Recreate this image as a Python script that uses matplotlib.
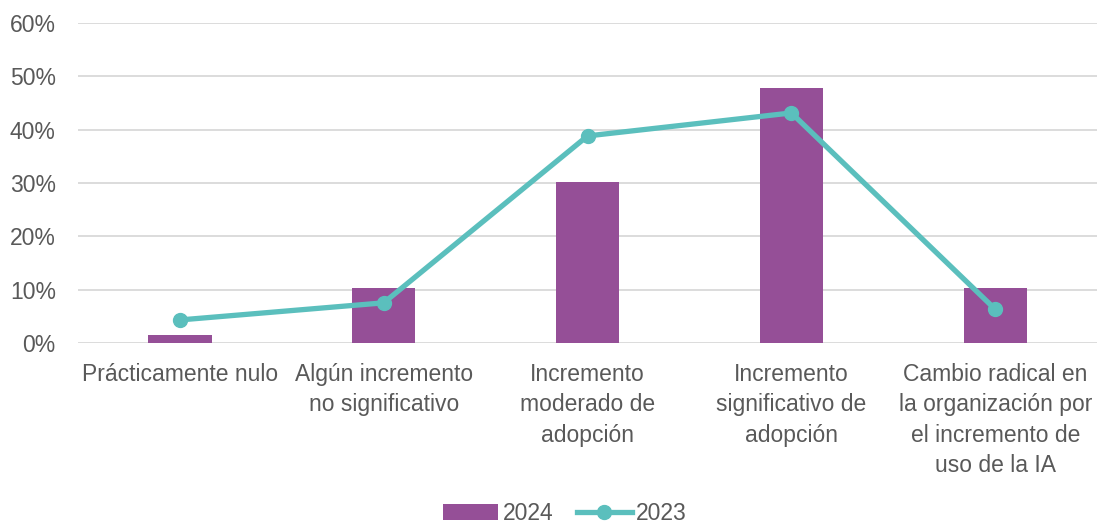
import matplotlib.pyplot as plt
from matplotlib.ticker import PercentFormatter

categories = ["Prácticamente nulo", "Algún incremento\nno significativo",
              "Incremento\nmoderado de\nadopción", "Incremento\nsignificativo de\nadopción",
              "Cambio radical en\nla organización por\nel incremento de\nuso de la IA"]
values_2024 = [0.015, 0.103, 0.302, 0.477, 0.103]
values_2023 = [0.044, 0.076, 0.388, 0.431, 0.064]

plt.rcParams['font.family'] = ['Liberation Sans', 'DejaVu Sans']
grey = '#595959'
fs = 16.5

fig = plt.figure(figsize=(10.97, 5.24), dpi=100)
ax = fig.add_axes([0.0711, 0.3445, 0.929, 0.6125])

x = list(range(len(categories)))
bars = ax.bar(x, values_2024, width=0.31, color='#954F97', label='2024', zorder=2)
line, = ax.plot(x, values_2023, color='#5BBFBD', lw=3.8, marker='o', ms=10,
                label='2023', zorder=3)

ax.set_xlim(-0.5, len(categories) - 0.5)
ax.set_ylim(0, 0.6)
ax.set_yticks([0, 0.1, 0.2, 0.3, 0.4, 0.5, 0.6])
ax.yaxis.set_major_formatter(PercentFormatter(1.0, decimals=0))
ax.set_xticks(x)
ax.set_xticklabels(categories, linespacing=1.41)
ax.tick_params(axis='both', length=0, labelsize=fs, colors=grey)
ax.tick_params(axis='x', pad=14)
ax.tick_params(axis='y', pad=16)

ax.grid(axis='y', color='#D9D9D9', lw=1.3, zorder=0)
for s in ax.spines.values():
    s.set_visible(False)

ax.legend([bars, line], ['2024', '2023'], loc='center', bbox_to_anchor=(0.478, -0.53),
          ncol=2, frameon=False, fontsize=fs, labelcolor=grey, handlelength=2.4,
          handletextpad=0.2, columnspacing=1.0, borderpad=0)

fig.savefig('out.png', dpi=100)
